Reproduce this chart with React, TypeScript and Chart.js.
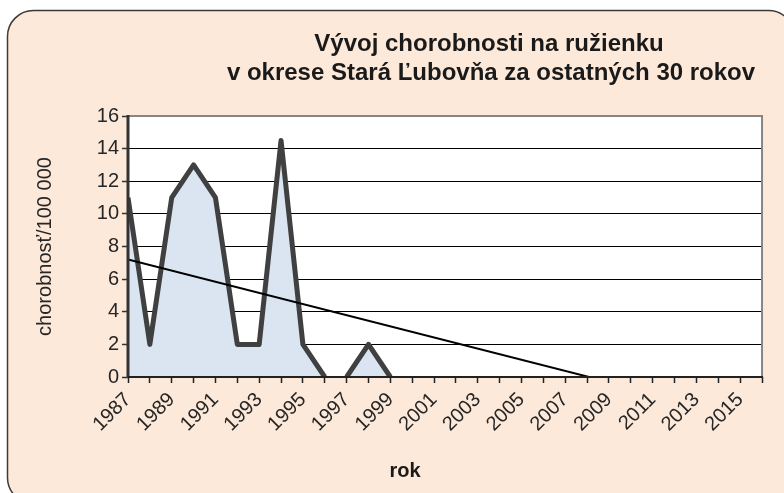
import React, { useEffect, useRef } from "react";
import { Chart, registerables } from "chart.js";

Chart.register(...registerables);

const years = [
  "1987", "1988", "1989", "1990", "1991", "1992", "1993", "1994", "1995", "1996",
  "1997", "1998", "1999", "2000", "2001", "2002", "2003", "2004", "2005", "2006",
  "2007", "2008", "2009", "2010", "2011", "2012", "2013", "2014", "2015", "2016",
];
const incidence = [
  11, 2, 11, 13, 11, 2, 2, 14.5, 2, 0,
  0, 2, 0, 0, 0, 0, 0, 0, 0, 0,
  0, 0, 0, 0, 0, 0, 0, 0, 0, 0,
];
// linear trend line value at the first and at the last year
const trendStart = 7.2;
const trendEnd = -2.7;
const titleLines = [
  "Vývoj chorobnosti na ružienku",
  "v okrese Stará Ľubovňa za ostatných 30 rokov",
];
const yAxisTitle = "chorobnosť/100 000";
const xAxisTitle = "rok";
const yMin = 0;
const yMax = 16;
const yStep = 2;

const FONT = "'Liberation Sans', Arial, sans-serif";

export default function App() {
  const ref = useRef<HTMLCanvasElement | null>(null);

  useEffect(() => {
    if (!ref.current) return;
    const trend = years.map((_, i) =>
      i === 0 ? trendStart : i === years.length - 1 ? trendEnd : null
    );

    const decor = {
      id: "decor",
      beforeDraw(chart: any) {
        const { ctx, chartArea: a, width, height } = chart;
        ctx.save();
        ctx.fillStyle = "#ffffff";
        ctx.fillRect(0, 0, width, height);
        ctx.beginPath();
        ctx.roundRect(7.5, 10.5, 787, 493, 26);
        ctx.fillStyle = "#fde9d9";
        ctx.fill();
        ctx.lineWidth = 1.5;
        ctx.strokeStyle = "#3a3a3a";
        ctx.stroke();
        ctx.fillStyle = "#ffffff";
        ctx.fillRect(a.left, a.top, a.right - a.left, a.bottom - a.top);
        ctx.restore();
      },
      afterDatasetsDraw(chart: any) {
        const { ctx, chartArea: a } = chart;
        ctx.save();
        ctx.strokeStyle = "#868686";
        ctx.lineWidth = 2;
        ctx.beginPath();
        ctx.moveTo(a.left, a.top);
        ctx.lineTo(a.right, a.top);
        ctx.lineTo(a.right, a.bottom);
        ctx.stroke();
        ctx.strokeStyle = "#333333";
        ctx.lineWidth = 3;
        ctx.beginPath();
        ctx.moveTo(a.left, a.top - 1);
        ctx.lineTo(a.left, a.bottom + 1);
        ctx.stroke();
        ctx.strokeStyle = "#222222";
        ctx.lineWidth = 2;
        ctx.beginPath();
        ctx.moveTo(a.left, a.bottom);
        ctx.lineTo(a.right + 1, a.bottom);
        ctx.stroke();
        ctx.restore();
      },
      afterDraw(chart: any) {
        const { ctx } = chart;
        ctx.save();
        ctx.fillStyle = "#1a1a1a";
        ctx.textAlign = "center";
        ctx.textBaseline = "middle";
        ctx.font = `bold 24px ${FONT}`;
        ctx.fillText(titleLines[0], 489, 44);
        ctx.fillText(titleLines[1], 491, 73);
        ctx.font = `bold 20px ${FONT}`;
        ctx.fillText(xAxisTitle, 405, 471);
        ctx.restore();
      },
    };

    const chart = new Chart(ref.current, {
      type: "line",
      data: {
        labels: years,
        datasets: [
          {
            label: "trend",
            data: trend,
            borderColor: "#000000",
            borderWidth: 2,
            pointRadius: 0,
            spanGaps: true,
            fill: false,
            clip: 0,
            order: 0,
          },
          {
            label: "chorobnosť",
            data: incidence,
            borderColor: "#404040",
            backgroundColor: "#dbe5f1",
            borderWidth: 5,
            borderJoinStyle: "round",
            pointRadius: 0,
            fill: "origin",
            clip: 0,
            order: 1,
            segment: {
              borderColor: (c: any) =>
                c.p0.parsed.y === 0 && c.p1.parsed.y === 0 ? "rgba(0,0,0,0)" : undefined,
            },
          },
        ],
      },
      options: {
        animation: false,
        responsive: false,
        maintainAspectRatio: false,
        layout: { padding: { top: 116, right: 18, left: 0, bottom: 0 } },
        plugins: {
          legend: { display: false },
          tooltip: { enabled: false },
          title: { display: false },
        },
        scales: {
          x: {
            type: "category",
            offset: false,
            afterFit: (s: any) => {
              s.height = 116;
            },
            border: { display: false },
            grid: {
              drawOnChartArea: false,
              drawTicks: true,
              tickLength: 6,
              tickColor: "#222222",
              tickWidth: 1.5,
            },
            ticks: {
              autoSkip: false,
              maxRotation: 45,
              minRotation: 45,
              padding: 5,
              color: "#262626",
              font: { family: FONT, size: 20 },
              callback: (_v: any, i: number) => (i % 2 === 0 ? years[i] : ""),
            },
          },
          y: {
            min: yMin,
            max: yMax,
            afterFit: (s: any) => {
              s.width = 128;
            },
            border: { display: false },
            grid: {
              color: (c: any) => (c.tick && c.tick.value === yMax ? "#868686" : "#000000"),
              lineWidth: 1,
              tickLength: 6,
              tickColor: "#333333",
              tickWidth: 1.5,
            },
            ticks: {
              stepSize: yStep,
              padding: 3,
              color: "#262626",
              font: { family: FONT, size: 20 },
            },
            title: {
              display: true,
              text: yAxisTitle,
              color: "#262626",
              font: { family: FONT, size: 20 },
              padding: { top: 33, bottom: 0 },
            },
          },
        },
      },
      plugins: [decor],
    });
    return () => chart.destroy();
  }, []);

  return (
    <div style={{ width: 784, height: 493, position: "relative", overflow: "hidden" }}>
      <style>{`html,body{margin:0;padding:0;overflow:hidden;}`}</style>
      <canvas ref={ref} width={784} height={493} style={{ display: "block", width: 784, height: 493 }} />
    </div>
  );
}
